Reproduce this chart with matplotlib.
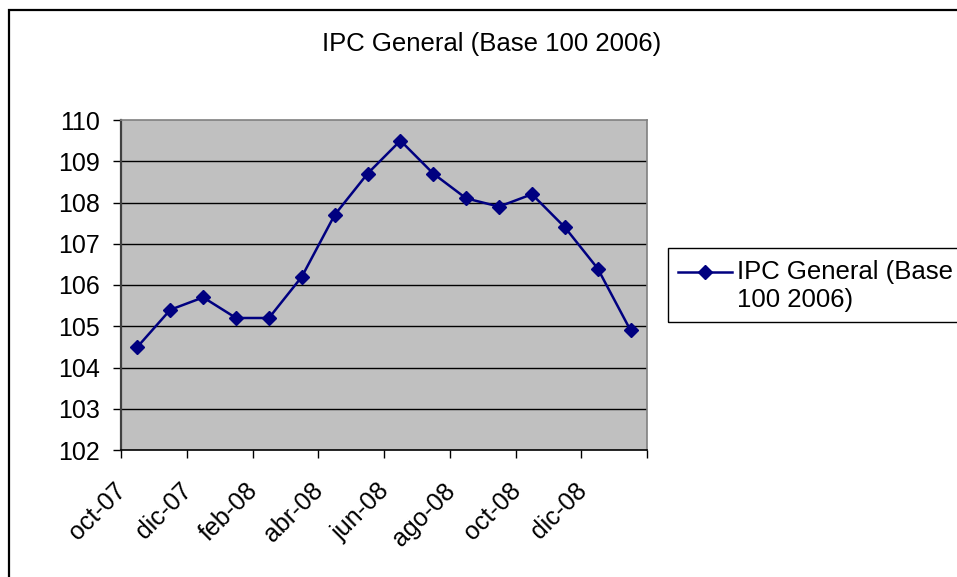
import matplotlib
matplotlib.use("Agg")
import matplotlib.pyplot as plt
from matplotlib.patches import Rectangle
from matplotlib.lines import Line2D
import matplotlib.transforms as mtransforms

plt.rcParams['font.family'] = ['Liberation Sans', 'DejaVu Sans']

title = "IPC General (Base 100 2006)"
legend_label = "IPC General (Base\n100 2006)"
months = ["oct-07", "nov-07", "dic-07", "ene-08", "feb-08", "mar-08", "abr-08", "may-08",
          "jun-08", "jul-08", "ago-08", "sep-08", "oct-08", "nov-08", "dic-08", "ene-09"]
values = [104.5, 105.4, 105.7, 105.2, 105.2, 106.2, 107.7, 108.7,
          109.5, 108.7, 108.1, 107.9, 108.2, 107.4, 106.4, 104.9]
yticks = [102, 103, 104, 105, 106, 107, 108, 109, 110]

W, H = 957, 577
fig = plt.figure(figsize=(W / 100, H / 100), dpi=100)
fig.patch.set_facecolor('white')

ax = fig.add_axes([121 / W, 1 - 450 / H, 526 / W, 330 / H])
ax.set_facecolor('#C0C0C0')

x = list(range(len(months)))
navy = '#000080'
ax.plot(x, values, color=navy, lw=1.8, marker='D', ms=6.8, mfc=navy, mec=navy, zorder=3)

ax.set_xlim(-0.5, len(months) - 0.5)
ax.set_ylim(yticks[0], yticks[-1])
ax.set_yticks(yticks)
for yv in yticks[1:-1]:
    ax.axhline(yv, color='black', lw=1.0, zorder=1)

xt = [i - 0.5 for i in range(0, len(months) + 1, 2)]
xl = months[0::2] + [""]
ax.set_xticks(xt)
ax.set_xticklabels(xl, rotation=45, ha='right', va='top')

ax.tick_params(axis='both', direction='out', length=5.5, width=1.0, color='black',
               labelsize=18, colors='black')
ax.tick_params(axis='y', pad=9.5)
ax.tick_params(axis='x', pad=15)

off = mtransforms.ScaledTranslation(10 / 100, 0, fig.dpi_scale_trans)
for lab in ax.get_xticklabels():
    lab.set_transform(lab.get_transform() + off)

for s in ['top', 'right']:
    ax.spines[s].set_color('#808080')
    ax.spines[s].set_linewidth(1.2)
ax.spines['left'].set_color('#404040')
ax.spines['left'].set_linewidth(1.6)
ax.spines['bottom'].set_color('black')
ax.spines['bottom'].set_linewidth(1.2)

fig.text(492 / W, 1 - 44 / H, title, ha='center', va='center', fontsize=18.5)

# outer chart border
fig.add_artist(Rectangle((8.5 / W, -0.1), 1.2, 1 - 10 / H + 0.1, transform=fig.transFigure,
                         fill=False, ec='black', lw=1.6, clip_on=False))

# legend (box extends beyond right edge as in the reference)
fig.add_artist(Rectangle((668 / W, 1 - 322 / H), 0.5, 74 / H, transform=fig.transFigure,
                         fill=False, ec='black', lw=1.0, clip_on=False))
fig.add_artist(Line2D([678 / W, 732 / W], [1 - 272 / H, 1 - 272 / H], transform=fig.transFigure,
                      color=navy, lw=1.8))
fig.add_artist(Line2D([705 / W], [1 - 272 / H], transform=fig.transFigure, color=navy,
                      marker='D', ms=6.8, mfc=navy, mec=navy))
fig.text(737 / W, 1 - 286 / H, legend_label, ha='left', va='center', fontsize=18.5,
         linespacing=1.2)

fig.savefig('out.png', dpi=100)
